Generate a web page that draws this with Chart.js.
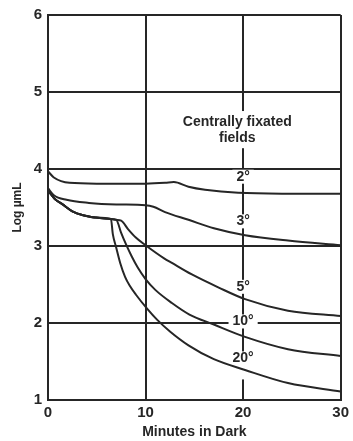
<!DOCTYPE html>
<html>
<head>
<meta charset="utf-8">
<script src="https://cdn.jsdelivr.net/npm/chart.js@4/dist/chart.umd.min.js"></script>
<style>
  html, body { margin: 0; padding: 0; background: #fff; }
</style>
</head>
<body>
<canvas id="darkChart" width="353" height="441"></canvas>
<script>
// minutes in dark / log µµL
var min2 = [0, 0.6, 2.2, 5, 10, 12, 12.9, 14.4, 16.1, 19.5, 24, 30];
var log2 = [3.97, 3.89, 3.82, 3.81, 3.81, 3.82, 3.83, 3.77, 3.73, 3.69, 3.68, 3.68];

var min3 = [0, 0.6, 1.9, 4.2, 7, 10, 10.8, 12, 14.4, 17, 20.2, 24.6, 30];
var log3 = [3.75, 3.66, 3.60, 3.56, 3.54, 3.53, 3.51, 3.44, 3.34, 3.23, 3.14, 3.07, 3.01];

// shared start of the 5, 10 and 20 degree curves
var minCommon = [0, 0.7, 1.5, 2.5, 3.6, 4.9, 6.45];
var logCommon = [3.72, 3.61, 3.54, 3.45, 3.40, 3.37, 3.35];

var min5 = [7.0, 7.5, 8.2, 9.0, 10, 11.9, 12.7, 14.75, 17.5, 20.2, 24.6, 30];
var log5 = [3.34, 3.33, 3.22, 3.11, 3.01, 2.84, 2.78, 2.63, 2.46, 2.31, 2.16, 2.09];

var min10 = [7.0, 7.5, 8.0, 8.6, 9.2, 10, 11, 12.7, 14.5, 17, 20.2, 24.6, 30];
var log10 = [3.34, 3.17, 3.02, 2.86, 2.72, 2.57, 2.43, 2.26, 2.11, 1.98, 1.82, 1.66, 1.57];

var min20 = [6.65, 6.95, 7.4, 7.9, 8.4, 9.0, 10.2, 11.2, 12.5, 14.4, 17, 20.2, 24.6, 30];
var log20 = [3.15, 3.0, 2.78, 2.60, 2.48, 2.37, 2.18, 2.04, 1.89, 1.71, 1.53, 1.39, 1.22, 1.11];

var xTicks = [0, 10, 20, 30];
var yTicks = [1, 2, 3, 4, 5, 6];

var fieldLabels = ['2°', '3°', '5°', '10°', '20°'];
var fieldLabelY = [3.90, 3.32, 2.47, 2.02, 1.54];
var headerLines = ['Centrally fixated', 'fields'];
var headerY = [4.61, 4.40];

function pts(xs, ys) {
  return xs.map(function (x, i) { return { x: x, y: ys[i] }; });
}

var ink = '#262626';
var fontFam = "'Liberation Sans', Arial, sans-serif";

function curve(data) {
  return {
    data: data,
    borderColor: ink,
    borderWidth: 2,
    pointRadius: 0,
    fill: false,
    cubicInterpolationMode: 'monotone'
  };
}

// white gaps in the grid behind the labels, then the labels
var labelPlugin = {
  id: 'fieldLabels',
  beforeDatasetsDraw: function (chart) {
    var ctx = chart.ctx, xs = chart.scales.x, ys = chart.scales.y;
    ctx.save();
    ctx.fillStyle = '#fff';
    ctx.font = 'bold 14px ' + fontFam;
    var hx = xs.getPixelForValue(19.4);
    var top = ys.getPixelForValue(headerY[0]) - 11;
    var bot = ys.getPixelForValue(headerY[1]) + 10;
    var hw = ctx.measureText(headerLines[0]).width;
    ctx.fillRect(hx - hw / 2 - 2, top, hw + 4, bot - top);
    var px = xs.getPixelForValue(20);
    fieldLabels.forEach(function (t, i) {
      var w = ctx.measureText(t).width;
      var py = ys.getPixelForValue(fieldLabelY[i]);
      var extra = i === fieldLabels.length - 1 ? 14 : 0;
      ctx.fillRect(px - w / 2 - 4, py - 7, w + 8, 14 + extra);
    });
    ctx.restore();
  },
  afterDatasetsDraw: function (chart) {
    var ctx = chart.ctx, xs = chart.scales.x, ys = chart.scales.y;
    ctx.save();
    ctx.fillStyle = ink;
    ctx.font = 'bold 14px ' + fontFam;
    ctx.textAlign = 'center';
    ctx.textBaseline = 'middle';
    headerLines.forEach(function (t, i) {
      ctx.fillText(t, xs.getPixelForValue(19.4), ys.getPixelForValue(headerY[i]));
    });
    fieldLabels.forEach(function (t, i) {
      ctx.fillText(t, xs.getPixelForValue(20), ys.getPixelForValue(fieldLabelY[i]));
    });
    ctx.restore();
  }
};

new Chart(document.getElementById('darkChart'), {
  type: 'line',
  data: {
    datasets: [
      curve(pts(min2, log2)),
      curve(pts(min3, log3)),
      curve(pts(minCommon.concat(min5), logCommon.concat(log5))),
      curve(pts(minCommon.concat(min10), logCommon.concat(log10))),
      curve(pts(minCommon.concat(min20), logCommon.concat(log20)))
    ]
  },
  options: {
    responsive: false,
    animation: false,
    devicePixelRatio: 1,
    layout: { padding: { top: 15, right: 9, left: 0, bottom: 0 } },
    plugins: { legend: { display: false }, tooltip: { enabled: false } },
    scales: {
      x: {
        type: 'linear',
        min: 0, max: 30,
        afterBuildTicks: function (s) { s.ticks = xTicks.map(function (v) { return { value: v }; }); },
        afterFit: function (s) { s.height = 41; },
        grid: { color: ink, lineWidth: 2, drawTicks: false },
        border: { color: ink, width: 2 },
        ticks: { color: ink, padding: 4, font: { family: fontFam, size: 15, weight: 'bold' } },
        title: { display: true, text: 'Minutes in Dark', color: ink, padding: { top: 0, bottom: 0 },
                 font: { family: fontFam, size: 14, weight: 'bold' } }
      },
      y: {
        min: 1, max: 6,
        afterBuildTicks: function (s) { s.ticks = yTicks.map(function (v) { return { value: v }; }); },
        afterFit: function (s) { s.width = 48; },
        grid: { color: ink, lineWidth: 2, drawTicks: false },
        border: { color: ink, width: 2 },
        ticks: { color: ink, padding: 6, font: { family: fontFam, size: 15, weight: 'bold' } },
        title: { display: true, text: 'Log µmL', color: ink, padding: { top: 10, bottom: 0 },
                 font: { family: fontFam, size: 12, weight: 'bold' } }
      }
    }
  },
  plugins: [labelPlugin]
});
</script>
</body>
</html>
